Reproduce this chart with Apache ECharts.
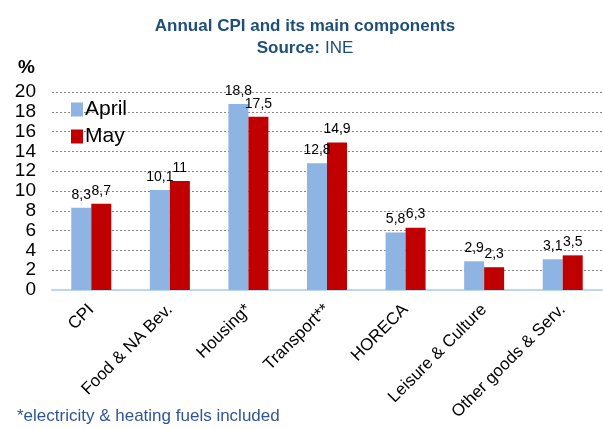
<!DOCTYPE html>
<html>
<head>
<meta charset="utf-8">
<script src="https://cdn.jsdelivr.net/npm/echarts@6/dist/echarts.min.js"></script>
<style>
  html, body { margin: 0; padding: 0; background: #fff; }
  #main { width: 603px; height: 429px; }
</style>
</head>
<body>
<div id="main"></div>
<script>
var categories = ['CPI', 'Food & NA Bev.', 'Housing*', 'Transport**', 'HORECA', 'Leisure & Culture', 'Other goods & Serv.'];
var aprilValues = [8.3, 10.1, 18.8, 12.8, 5.8, 2.9, 3.1];
var mayValues = [8.7, 11, 17.5, 14.9, 6.3, 2.3, 3.5];
var yTicks = [0, 2, 4, 6, 8, 10, 12, 14, 16, 18, 20];

var chartDom = document.getElementById('main');
var chart = echarts.init(chartDom, null, { renderer: 'canvas' });

function commaLabel(p) {
    return String(p.value).replace('.', ',');
}

var option = {
    animation: false,
    textStyle: { fontFamily: 'Liberation Sans, Arial, sans-serif' },
    title: [{
        text: 'Annual CPI and its main components',
        left: 300,
        top: 13,
        textAlign: 'center',
        textStyle: { fontSize: 17, fontWeight: 'bold', color: '#1F4E79' }
    }, {
        text: '{b|Source:} {n|INE}',
        left: 300,
        top: 34,
        textAlign: 'center',
        textStyle: {
            fontWeight: 'normal',
            rich: {
                b: { fontSize: 17, fontWeight: 'bold', color: '#1F4E79' },
                n: { fontSize: 17, fontWeight: 'normal', color: '#1F4E79' }
            }
        }
    }, {
        text: '%',
        left: 13,
        top: 53,
        textStyle: { fontSize: 19, fontWeight: 'bold', color: '#000' }
    }, {
        text: '*electricity & heating fuels included',
        left: 12,
        top: 403,
        textStyle: { fontSize: 17, fontWeight: 'normal', color: '#2F5597' }
    }],
    legend: {
        orient: 'vertical',
        left: 66,
        top: 94,
        itemWidth: 12,
        itemHeight: 14,
        itemGap: 6,
        icon: 'rect',
        textStyle: { fontSize: 21, color: '#000', padding: [0, 0, 0, -3] },
        data: ['April', 'May']
    },
    grid: {
        left: 52,
        right: 1,
        top: 92,
        bottom: 139
    },
    xAxis: {
        type: 'category',
        data: categories,
        axisLine: { lineStyle: { color: '#BDD7EE', width: 2 } },
        axisTick: { show: false },
        axisLabel: {
            interval: 0,
            rotate: 45,
            fontSize: 17,
            color: '#000',
            margin: 17
        }
    },
    yAxis: {
        type: 'value',
        min: yTicks[0],
        max: yTicks[yTicks.length - 1],
        interval: 2,
        axisLine: { show: false },
        axisTick: { show: false },
        axisLabel: {
            fontSize: 19,
            color: '#000',
            margin: 16,
            showMinLabel: true,
            showMaxLabel: true,
            hideOverlap: false
        },
        splitLine: { lineStyle: { color: '#888', type: [2, 2], width: 1 } }
    },
    series: [{
        name: 'April',
        type: 'bar',
        data: aprilValues,
        barWidth: 20,
        barGap: '0%',
        itemStyle: { color: '#8DB4E2' },
        label: {
            show: true,
            position: 'top',
            fontSize: 14,
            color: '#000',
            distance: 6,
            formatter: commaLabel
        }
    }, {
        name: 'May',
        type: 'bar',
        data: mayValues,
        barWidth: 20,
        barGap: '0%',
        itemStyle: { color: '#C00000' },
        label: {
            show: true,
            position: 'top',
            fontSize: 14,
            color: '#000',
            distance: 6,
            formatter: commaLabel
        }
    }]
};

chart.setOption(option);
</script>
</body>
</html>
